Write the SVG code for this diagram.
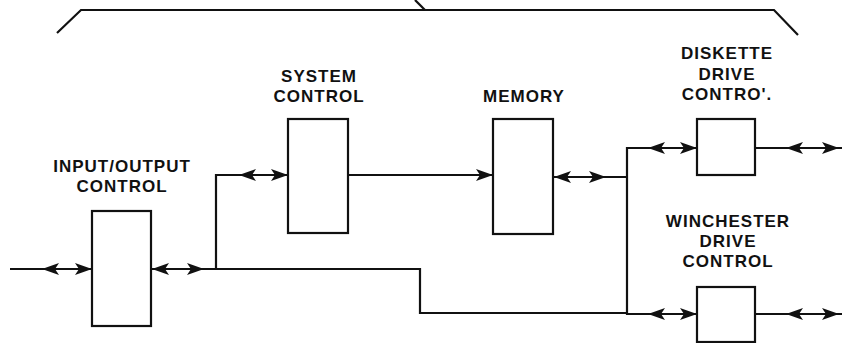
<svg xmlns="http://www.w3.org/2000/svg" xmlns:xlink="http://www.w3.org/1999/xlink" width="842" height="343" viewBox="0 0 842 343">
<style>
  .ln{fill:none;stroke:#111;stroke-width:2.2;stroke-linejoin:miter}
  .bx{fill:#fff;stroke:#111;stroke-width:2.2}
  .lb{font-family:"Liberation Sans",Arial,sans-serif;font-weight:bold;font-size:17px;letter-spacing:1px;fill:#111;text-anchor:middle}
</style>
<defs>
  <path id="ar" d="M0,0 L-17,-6 L-13,0 L-17,6 Z" fill="#111"/>
  <path id="al" d="M0,0 L17,-6 L13,0 L17,6 Z" fill="#111"/>
</defs>
<rect width="842" height="343" fill="#fff"/>
<g id="brace">
  <path class="ln" d="M57,33 L81,10 L774,10 L798,35"/>
  <path class="ln" d="M415,0 L425,10"/>
</g>
<g id="connectors">
  <path class="ln" d="M10,269 H92"/>
  <use xlink:href="#al" x="42" y="269"/>
  <use xlink:href="#ar" x="92" y="269"/>
  <path class="ln" d="M151,269 H420 V313 H627"/>
  <use xlink:href="#al" x="152" y="269"/>
  <use xlink:href="#ar" x="204" y="269"/>
  <path class="ln" d="M216,269 V175 H288"/>
  <use xlink:href="#al" x="239" y="175"/>
  <use xlink:href="#ar" x="288" y="175"/>
  <path class="ln" d="M348,175 H493"/>
  <use xlink:href="#ar" x="493" y="175"/>
  <path class="ln" d="M553,177 H627"/>
  <use xlink:href="#al" x="554" y="177"/>
  <use xlink:href="#ar" x="606" y="177"/>
  <path class="ln" d="M697,148 H627 V314 H697"/>
  <use xlink:href="#al" x="648" y="148"/>
  <use xlink:href="#ar" x="697" y="148"/>
  <use xlink:href="#al" x="648" y="314"/>
  <use xlink:href="#ar" x="697" y="314"/>
  <path class="ln" d="M755,148 H842"/>
  <use xlink:href="#al" x="786" y="148"/>
  <use xlink:href="#ar" x="839" y="148"/>
  <path class="ln" d="M755,314 H842"/>
  <use xlink:href="#al" x="786" y="314"/>
  <use xlink:href="#ar" x="839" y="314"/>
</g>
<g id="io">
  <rect class="bx" x="92" y="211" width="59" height="115"/>
  <text class="lb" x="122" y="172">INPUT/OUTPUT</text>
  <text class="lb" x="122" y="192">CONTROL</text>
</g>
<g id="sysctl">
  <rect class="bx" x="288" y="119" width="60" height="114"/>
  <text class="lb" x="319" y="82">SYSTEM</text>
  <text class="lb" x="319" y="102">CONTROL</text>
</g>
<g id="memory">
  <rect class="bx" x="493" y="119" width="60" height="115"/>
  <text class="lb" x="524" y="102">MEMORY</text>
</g>
<g id="diskette">
  <rect class="bx" x="697" y="119" width="58" height="56"/>
  <text class="lb" x="727" y="59">DISKETTE</text>
  <text class="lb" x="727" y="80">DRIVE</text>
  <text class="lb" x="727" y="100">CONTRO'.</text>
</g>
<g id="winchester">
  <rect class="bx" x="697" y="287" width="58" height="55"/>
  <text class="lb" x="728" y="227">WINCHESTER</text>
  <text class="lb" x="728" y="247">DRIVE</text>
  <text class="lb" x="728" y="267">CONTROL</text>
</g>
</svg>
